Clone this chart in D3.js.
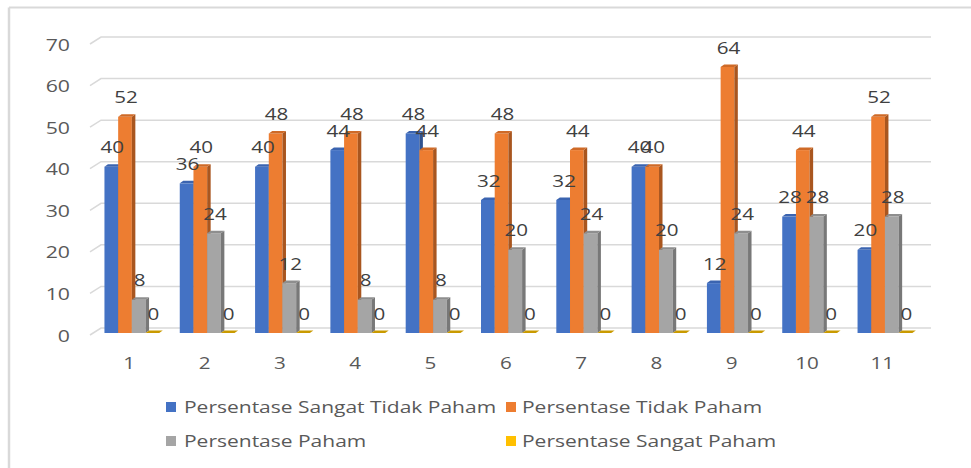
<!DOCTYPE html>
<html>
<head>
<meta charset="utf-8">
<script src="https://cdn.jsdelivr.net/npm/d3@7"></script>
<style>
  html, body { margin: 0; padding: 0; background: #fff; }
  svg { display: block; }
  text { font-family: "Open Sans", "Noto Sans", sans-serif; }
</style>
</head>
<body>
<svg id="chart" width="971" height="468"></svg>
<script>
// Question numbers on the x axis
const categories = ["1", "2", "3", "4", "5", "6", "7", "8", "9", "10", "11"];

// Percentage of respondents per understanding level
const sangatTidakPaham = [40, 36, 40, 44, 48, 32, 32, 40, 12, 28, 20];
const tidakPaham       = [52, 40, 48, 48, 44, 48, 44, 40, 64, 44, 52];
const paham            = [8, 24, 12, 8, 8, 20, 24, 20, 24, 28, 28];
const sangatPaham      = [0, 0, 0, 0, 0, 0, 0, 0, 0, 0, 0];

const seriesNames = [
  "Persentase Sangat Tidak Paham",
  "Persentase Tidak Paham",
  "Persentase Paham",
  "Persentase Sangat Paham"
];
const yTicks = [0, 10, 20, 30, 40, 50, 60, 70];

const series = [sangatTidakPaham, tidakPaham, paham, sangatPaham];

// Face colours: front, side, top
const palette = [
  { front: "#4472C4", side: "#2F528F", top: "#3B64B0" },
  { front: "#ED7D31", side: "#A9561F", top: "#CF6A27" },
  { front: "#A5A5A5", side: "#787878", top: "#8E8E8E" },
  { front: "#FFC000", side: "#B38700", top: "#C99A00" }
];

const svg = d3.select("#chart");
const SX = 1.25; // horizontal stretch of all text

function stretchedText(parent, x, y, str, opts) {
  const g = parent.append("g").attr("transform", `translate(${x},${y}) scale(${SX},1)`);
  return g.append("text")
    .attr("text-anchor", opts.anchor || "middle")
    .attr("dominant-baseline", "central")
    .attr("font-size", opts.size)
    .attr("fill", opts.fill)
    .text(str);
}

// Outer frame (left and top edges)
svg.append("line").attr("x1", 9).attr("y1", 7.5).attr("x2", 971).attr("y2", 7.5)
  .attr("stroke", "#d9d9d9").attr("stroke-width", 2);
svg.append("line").attr("x1", 9).attr("y1", 7.5).attr("x2", 9).attr("y2", 468)
  .attr("stroke", "#d9d9d9").attr("stroke-width", 2.5);

// Scales
const y = d3.scaleLinear().domain([0, 70]).range([333, 42]);
const x = d3.scaleBand().domain(categories).range([91.6, 920]).padding(0);

// 3D offsets
const wallDx = 11, wallDy = 7;
const barDx = 3.5, barDy = 2.5;
const barW = 13.7;

// Gridlines on the back wall, with the slanted floor/side segment
const grid = svg.append("g");
yTicks.forEach(v => {
  const yf = y(v) + 2;
  const yb = yf - wallDy;
  grid.append("path")
    .attr("d", `M90,${yf} L${90 + wallDx},${yb} L931,${yb}`)
    .attr("fill", "none")
    .attr("stroke", "#d9d9d9")
    .attr("stroke-width", 1.5);
});

// Y axis labels
const yAxis = svg.append("g");
yTicks.forEach(v => {
  stretchedText(yAxis, 70, y(v) + 2, String(v), { anchor: "end", size: 17, fill: "#595959" });
});

// X axis labels
const xAxis = svg.append("g");
categories.forEach(c => {
  stretchedText(xAxis, x(c) + x.bandwidth() / 2, 362, c, { size: 16.5, fill: "#595959" });
});

// 3D columns
const bars = svg.append("g");
const labels = svg.append("g");
categories.forEach((c, ci) => {
  const x0 = x(c) + x.bandwidth() / 2 - 24.8;
  series.forEach((vals, si) => {
    const v = vals[ci];
    const bx = x0 + si * barW;
    const yt = y(v), yb = y(0);
    const col = palette[si];
    const g = bars.append("g");
    if (v > 0) {
      g.append("rect").attr("x", bx).attr("y", yt).attr("width", barW).attr("height", yb - yt)
        .attr("fill", col.front);
      g.append("path")
        .attr("d", `M${bx + barW},${yt} L${bx + barW + barDx},${yt - barDy} L${bx + barW + barDx},${yb - barDy} L${bx + barW},${yb} Z`)
        .attr("fill", col.side);
    }
    g.append("path")
      .attr("d", `M${bx},${yt} L${bx + barDx},${yt - barDy} L${bx + barW + barDx},${yt - barDy} L${bx + barW},${yt} Z`)
      .attr("fill", col.top);
    stretchedText(labels, bx + barW / 2 + 1, yt - 20, String(v), { size: 16.5, fill: "#404040" });
  });
});

// Legend
const legend = svg.append("g");
const legendPos = [
  { sx: 166, tx: 184, y: 407 },
  { sx: 506, tx: 522, y: 407 },
  { sx: 166, tx: 184, y: 441 },
  { sx: 506, tx: 522, y: 441 }
];
seriesNames.forEach((name, i) => {
  const p = legendPos[i];
  legend.append("rect").attr("x", p.sx).attr("y", p.y - 5).attr("width", 10).attr("height", 10)
    .attr("fill", palette[i].front);
  stretchedText(legend, p.tx, p.y, name, { anchor: "start", size: 16.8, fill: "#595959" });
});
</script>
</body>
</html>
